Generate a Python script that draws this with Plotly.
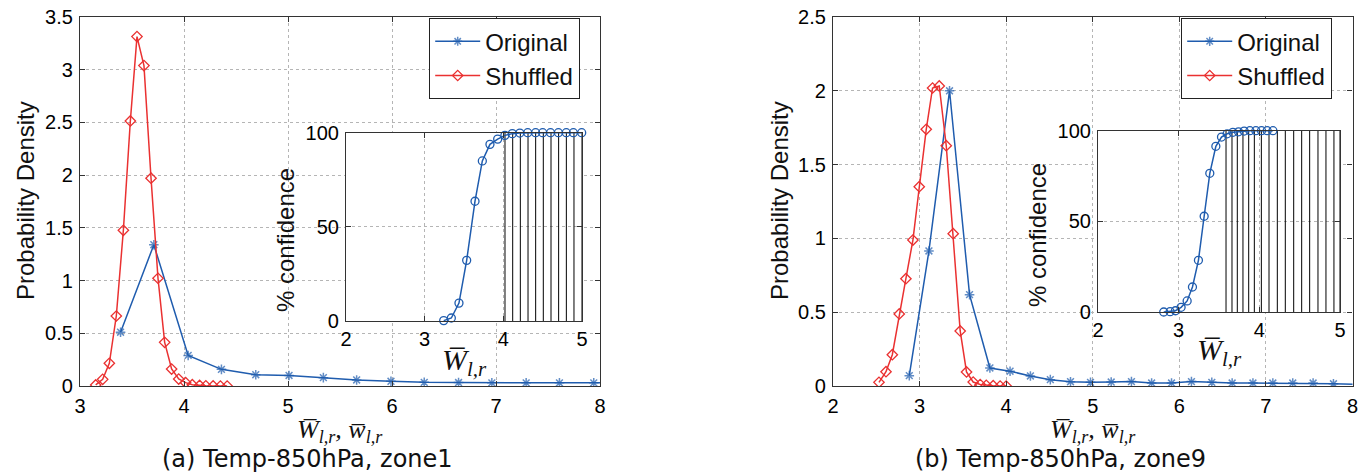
import plotly.graph_objects as go

# ---------------- data ----------------
left_orig_x = [3.39, 3.71, 4.04, 4.36, 4.69, 5.01, 5.34, 5.66, 5.99, 6.31, 6.64, 6.96, 7.29, 7.61, 7.94, 8.26]
left_orig_y = [0.51, 1.34, 0.29, 0.158, 0.107, 0.10, 0.079, 0.057, 0.045, 0.035, 0.033, 0.03, 0.03, 0.03, 0.03, 0.03]

left_shuf_x = [3.151, 3.218, 3.282, 3.349, 3.417, 3.484, 3.548, 3.615, 3.683, 3.75,
               3.814, 3.881, 3.949, 4.016, 4.08, 4.15, 4.21, 4.28, 4.35, 4.415]
left_shuf_y = [0.01, 0.063, 0.215, 0.664, 1.477, 2.514, 3.314, 3.039, 1.971, 1.022,
               0.414, 0.161, 0.066, 0.032, 0.012, 0.005, 0.002, 0.001, 0.0, 0.0]

left_conf_x = [3.242, 3.339, 3.436, 3.534, 3.64, 3.733, 3.83, 3.928, 4.02, 4.114,
               4.21, 4.31, 4.41, 4.50, 4.60, 4.70, 4.80, 4.89, 4.996]
left_conf_y = [0.2, 1.6, 9.5, 32.2, 63.6, 85, 93.8, 96.6, 98.6, 99.5,
               99.8, 100, 100, 100, 100, 100, 100, 100, 100]
left_stem_x = [4.021, 4.119, 4.216, 4.314, 4.411, 4.508, 4.606, 4.703, 4.801, 4.898, 5.0]

right_orig_x = [2.881, 3.108, 3.346, 3.577, 3.812, 4.045, 4.28, 4.51, 4.743, 4.974, 5.213, 5.447,
                5.68, 5.91, 6.14, 6.375, 6.61, 6.85, 7.08, 7.31, 7.545, 7.78, 8.015]
right_orig_y = [0.07, 0.915, 2.0, 0.619, 0.122, 0.10, 0.068, 0.043, 0.029, 0.025, 0.027, 0.03,
                0.02, 0.02, 0.03, 0.025, 0.02, 0.02, 0.02, 0.02, 0.02, 0.015, 0.012]

right_shuf_x = [2.531, 2.612, 2.685, 2.765, 2.842, 2.923, 2.996, 3.077, 3.15, 3.227,
                3.308, 3.388, 3.469, 3.542, 3.619, 3.70, 3.77, 3.85, 3.93, 4.00]
right_shuf_y = [0.025, 0.097, 0.212, 0.488, 0.727, 0.989, 1.35, 1.739, 2.019, 2.033,
                1.628, 1.032, 0.373, 0.095, 0.027, 0.01, 0.005, 0.002, 0.0, 0.0]

right_conf_x = [2.815, 2.894, 2.960, 3.030, 3.105, 3.171, 3.245, 3.316, 3.386, 3.461,
                3.531, 3.601, 3.672, 3.742, 3.812, 3.883, 3.957, 4.027, 4.097, 4.168]
right_conf_y = [0, 0.2, 0.7, 2.6, 6.1, 13.8, 28.5, 52.8, 76.5, 91.4,
                96.5, 98.3, 99.1, 99.4, 99.8, 100, 100, 100, 100, 100]
right_stem_x = [3.587, 3.661, 3.727, 3.797, 3.868, 3.938, 4.025, 4.12, 4.223, 4.322,
                4.426, 4.525, 4.624, 4.727, 4.826, 4.925, 5.0]

series_names = ["Original", "Shuffled"]
left_xticks = [3, 4, 5, 6, 7, 8]
left_yticks = [0, 0.5, 1, 1.5, 2, 2.5, 3, 3.5]
left_yticklabels = ["0", "0.5", "1", "1.5", "2", "2.5", "3", "3.5"]
right_xticks = [2, 3, 4, 5, 6, 7, 8]
right_yticks = [0, 0.5, 1, 1.5, 2, 2.5]
right_yticklabels = ["0", "0.5", "1", "1.5", "2", "2.5"]
inset_xticks = [2, 3, 4, 5]
inset_yticks = [0, 50, 100]

captions = ["(a) Temp-850hPa, zone1", "(b) Temp-850hPa, zone9"]

# ---------------- styling ----------------
W, H = 1358, 472
BLUE = "#1f5cae"
RED = "#ea3131"
FONT = "Liberation Sans, Arial, sans-serif"
SERIF = "Liberation Serif, DejaVu Serif, serif"


def xdom(a, b):
    return [a / W, b / W]


def ydom(top, bottom):
    return [1 - bottom / H, 1 - top / H]


def stems(xs, top):
    sx, sy = [], []
    for v in xs:
        sx += [v, v, None]
        sy += [0, top, None]
    return sx, sy


fig = go.Figure()

# left main
fig.add_trace(go.Scatter(x=left_orig_x, y=left_orig_y, mode="lines+markers", name=series_names[0],
                         line=dict(color=BLUE, width=1.5),
                         marker=dict(symbol="asterisk-open", size=[8 if v <= 8 else 0 for v in left_orig_x],
                                     line=dict(color=BLUE, width=1.5)),
                         xaxis="x", yaxis="y", legend="legend"))
fig.add_trace(go.Scatter(x=left_shuf_x, y=left_shuf_y, mode="lines+markers", name=series_names[1],
                         line=dict(color=RED, width=1.5),
                         marker=dict(symbol="diamond-open", size=8, color=RED,
                                     line=dict(color=RED, width=1.3)),
                         xaxis="x", yaxis="y", legend="legend"))

# left inset
sx, sy = stems(left_stem_x, 100)
fig.add_trace(go.Scatter(x=sx, y=sy, mode="lines", line=dict(color="black", width=1),
                         showlegend=False, xaxis="x2", yaxis="y2", hoverinfo="skip"))
fig.add_trace(go.Scatter(x=left_conf_x, y=left_conf_y, mode="lines+markers",
                         line=dict(color=BLUE, width=1.5),
                         marker=dict(symbol="circle-open", size=8, color=BLUE, line=dict(color=BLUE, width=1.3)),
                         showlegend=False, xaxis="x2", yaxis="y2", cliponaxis=False))

# right main
fig.add_trace(go.Scatter(x=right_orig_x, y=right_orig_y, mode="lines+markers", name=series_names[0],
                         line=dict(color=BLUE, width=1.5),
                         marker=dict(symbol="asterisk-open", size=[8 if v <= 8 else 0 for v in right_orig_x],
                                     line=dict(color=BLUE, width=1.5)),
                         xaxis="x3", yaxis="y3", legend="legend2"))
fig.add_trace(go.Scatter(x=right_shuf_x, y=right_shuf_y, mode="lines+markers", name=series_names[1],
                         line=dict(color=RED, width=1.5),
                         marker=dict(symbol="diamond-open", size=8, color=RED,
                                     line=dict(color=RED, width=1.3)),
                         xaxis="x3", yaxis="y3", legend="legend2"))

# right inset
sx, sy = stems(right_stem_x, 100)
fig.add_trace(go.Scatter(x=sx, y=sy, mode="lines", line=dict(color="black", width=1),
                         showlegend=False, xaxis="x4", yaxis="y4", hoverinfo="skip"))
fig.add_trace(go.Scatter(x=right_conf_x, y=right_conf_y, mode="lines+markers",
                         line=dict(color=BLUE, width=1.5),
                         marker=dict(symbol="circle-open", size=8, color=BLUE, line=dict(color=BLUE, width=1.3)),
                         showlegend=False, xaxis="x4", yaxis="y4", cliponaxis=False))

common = dict(showline=True, linecolor="#333333", linewidth=1.2, mirror="ticks", ticks="inside",
              ticklen=5, tickcolor="#333333", showgrid=True, gridcolor="#b5b5b5", griddash="dot",
              gridwidth=1, zeroline=False, automargin=False, ticklabeloverflow="allow",
              tickfont=dict(family=FONT, size=20, color="black"))

fig.update_layout(
    width=W, height=H, margin=dict(l=0, r=0, t=0, b=0, pad=0, autoexpand=False),
    paper_bgcolor="white", plot_bgcolor="white",
    xaxis=dict(**common, domain=xdom(80, 600), range=[3, 8], tickvals=left_xticks, anchor="y",
               ticklabelstandoff=2),
    yaxis=dict(**common, domain=ydom(17, 386), range=[0, 3.5], tickvals=left_yticks,
               ticktext=left_yticklabels, anchor="x", ticklabelstandoff=2),
    xaxis2=dict(**common, domain=xdom(346, 582), range=[2, 5], tickvals=inset_xticks, anchor="y2",
                ticklabelstandoff=0),
    yaxis2=dict(**common, domain=ydom(132.7, 321), range=[0, 100], tickvals=inset_yticks, anchor="x2",
                ticklabelstandoff=2),
    xaxis3=dict(**common, domain=xdom(833, 1352.5), range=[2, 8], tickvals=right_xticks, anchor="y3",
                ticklabelstandoff=2),
    yaxis3=dict(**common, domain=ydom(17, 386), range=[0, 2.5], tickvals=right_yticks,
                ticktext=right_yticklabels, anchor="x3", ticklabelstandoff=2),
    xaxis4=dict(**common, domain=xdom(1098, 1340), range=[2, 5], tickvals=inset_xticks, anchor="y4",
                ticklabelstandoff=0),
    yaxis4=dict(**common, domain=ydom(130.7, 312), range=[0, 100], tickvals=inset_yticks, anchor="x4",
                ticklabelstandoff=2),
    legend=dict(x=429 / W, y=1 - 18 / H, xanchor="left", yanchor="top", bgcolor="white",
                bordercolor="#222222", borderwidth=1.2, font=dict(family=FONT, size=24, color="#111111"),
                itemwidth=45, tracegroupgap=0),
    legend2=dict(x=1181 / W, y=1 - 18 / H, xanchor="left", yanchor="top", bgcolor="white",
                 bordercolor="#222222", borderwidth=1.2, font=dict(family=FONT, size=24, color="#111111"),
                 itemwidth=45, tracegroupgap=0),
    showlegend=True,
)

ann = []


def text(x, y, s, size, family=FONT, angle=0, color="#111111"):
    ann.append(dict(x=x / W, y=1 - y / H, xref="paper", yref="paper", text=s, showarrow=False,
                    font=dict(family=family, size=size, color=color), textangle=angle,
                    xanchor="center", yanchor="middle"))


# y titles
text(25, 201, "Probability Density", 24, angle=-90)
text(779, 201, "Probability Density", 24, angle=-90)
text(285, 240, "% confidence", 24, angle=-90)
text(1037, 235, "% confidence", 24, angle=-90)

# x titles (math-like)
main_xt = "<i>W\u0305</i><sub><i>l,r</i></sub><i>, w\u0305</i><sub><i>l,r</i></sub>"
inset_xt = "<i>W\u0305</i><sub><i>l,r</i></sub>"
text(340, 431, main_xt, 26, family=SERIF)
text(1093, 431, main_xt, 26, family=SERIF)
text(464, 362, inset_xt, 30, family=SERIF)
text(1219, 352, inset_xt, 30, family=SERIF)

# captions
text(307, 459, captions[0], 24, family="DejaVu Sans, sans-serif")
text(1060, 459, captions[1], 24, family="DejaVu Sans, sans-serif")

fig.update_layout(annotations=ann)

fig.write_html("out.html", config={"displayModeBar": False},
               post_script="document.body.style.margin='0px';document.body.style.overflow='hidden';")
